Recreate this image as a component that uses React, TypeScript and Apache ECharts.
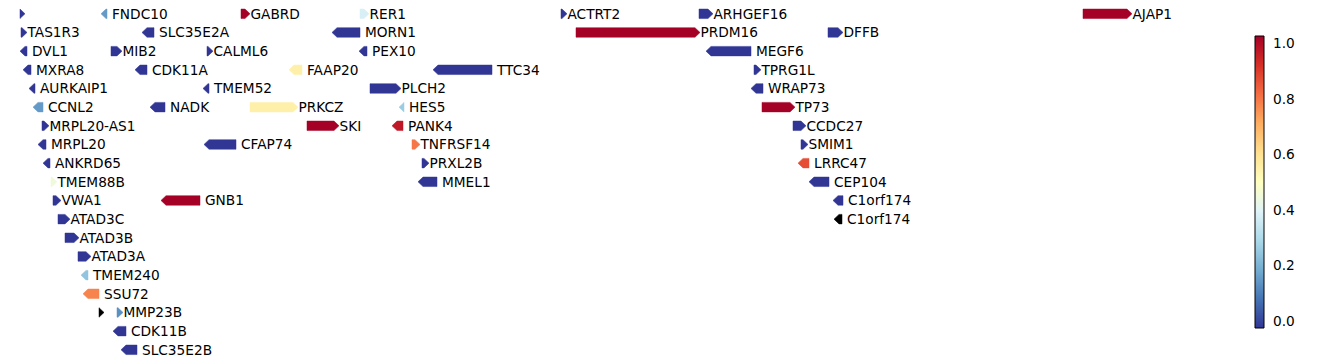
import React, { useEffect, useRef } from "react";
import * as echarts from "echarts";

// Gene track data: name, start, end (position units), strand, row, value (null = no value)
const geneNames = [
  "", "FNDC10", "GABRD", "RER1", "ACTRT2", "ARHGEF16", "AJAP1",
  "TAS1R3", "SLC35E2A", "MORN1", "PRDM16", "DFFB",
  "DVL1", "MIB2", "CALML6", "PEX10", "MEGF6",
  "MXRA8", "CDK11A", "FAAP20", "TTC34", "TPRG1L",
  "AURKAIP1", "TMEM52", "PLCH2", "WRAP73",
  "CCNL2", "NADK", "PRKCZ", "HES5", "TP73",
  "MRPL20-AS1", "SKI", "PANK4", "CCDC27",
  "MRPL20", "CFAP74", "TNFRSF14", "SMIM1",
  "ANKRD65", "PRXL2B", "LRRC47",
  "TMEM88B", "MMEL1", "CEP104",
  "VWA1", "GNB1", "C1orf174",
  "ATAD3C", "C1orf174",
  "ATAD3B",
  "ATAD3A",
  "TMEM240",
  "SSU72",
  "", "MMP23B",
  "CDK11B",
  "SLC35E2B",
];
const geneStart = [
  20, 101, 241, 360, 561, 699, 1083,
  21, 142, 332, 576, 828,
  20, 111, 207, 359, 706,
  23, 135, 289, 433, 754,
  29, 203, 370, 751,
  33, 150, 250, 399, 762,
  42, 307, 392, 793,
  38, 204, 412, 801,
  43, 422, 798,
  51, 418, 809,
  53, 161, 833,
  58, 834,
  65,
  78,
  81,
  83,
  99, 117,
  113,
  121,
];
const geneEnd = [
  25, 107, 250, 369, 567, 713, 1132,
  27, 154, 360, 700, 843,
  27, 122, 213, 367, 751,
  31, 147, 302, 492, 761,
  35, 209, 401, 763,
  43, 165, 298, 404, 795,
  49, 339, 403, 806,
  46, 236, 420, 808,
  50, 429, 809,
  57, 437, 829,
  61, 200, 843,
  70, 842,
  79,
  91,
  88,
  99,
  104, 123,
  126,
  137,
];
const geneStrand = [
  1, -1, 1, 1, 1, 1, 1,
  1, -1, -1, 1, 1,
  -1, 1, 1, -1, -1,
  -1, -1, -1, -1, 1,
  -1, -1, 1, -1,
  -1, -1, 1, -1, 1,
  1, 1, -1, 1,
  -1, -1, 1, 1,
  -1, 1, -1,
  1, -1, -1,
  1, -1, -1,
  1, -1,
  1,
  1,
  -1,
  -1,
  1, 1,
  -1,
  -1,
];
const geneRow = [
  0, 0, 0, 0, 0, 0, 0,
  1, 1, 1, 1, 1,
  2, 2, 2, 2, 2,
  3, 3, 3, 3, 3,
  4, 4, 4, 4,
  5, 5, 5, 5, 5,
  6, 6, 6, 6,
  7, 7, 7, 7,
  8, 8, 8,
  9, 9, 9,
  10, 10, 10,
  11, 11,
  12,
  13,
  14,
  15,
  16, 16,
  17,
  18,
];
const LO = -0.025;
const HI = 1.025;
const geneValue: (number | null)[] = [
  LO, 0.15, HI, 0.38, LO, LO, HI,
  LO, LO, LO, HI, LO,
  LO, LO, LO, LO, LO,
  LO, LO, 0.55, LO, LO,
  LO, LO, LO, LO,
  0.15, LO, 0.55, 0.26, HI,
  LO, HI, 0.97, LO,
  LO, LO, 0.8, LO,
  LO, LO, 0.87,
  0.45, LO, LO,
  LO, HI, LO,
  LO, null,
  LO,
  LO,
  0.24,
  0.78,
  null, 0.13,
  LO,
  LO,
];

const colorbarTicks = [0, 0.2, 0.4, 0.6, 0.8, 1.0];
const VMIN = -0.025;
const VMAX = 1.025;

// RdYlBu_r colormap stops
const CMAP = [
  "#313695", "#4575b4", "#74add1", "#abd9e9", "#e0f3f8", "#ffffbf",
  "#fee090", "#fdae61", "#f46d43", "#d73027", "#a50026",
];

function hexToRgb(h: string) {
  return [parseInt(h.slice(1, 3), 16), parseInt(h.slice(3, 5), 16), parseInt(h.slice(5, 7), 16)];
}
function cmap(v: number | null): string {
  if (v === null || v === undefined) return "#000000";
  let t = (v - VMIN) / (VMAX - VMIN);
  t = Math.max(0, Math.min(1, t));
  const p = t * (CMAP.length - 1);
  const i = Math.min(CMAP.length - 2, Math.floor(p));
  const f = p - i;
  const a = hexToRgb(CMAP[i]);
  const b = hexToRgb(CMAP[i + 1]);
  const c = a.map((x, k) => Math.round(x + (b[k] - x) * f));
  return `rgb(${c[0]},${c[1]},${c[2]})`;
}

const FONT = "'DejaVu Sans', sans-serif";
const FS = 13.7;

export default function App() {
  const ref = useRef<HTMLDivElement>(null);
  useEffect(() => {
    if (!ref.current) return;
    const chart = echarts.init(ref.current, undefined, { renderer: "svg" });
    const data = geneNames.map((n, i) => [geneStart[i], geneEnd[i], geneRow[i], i]);
    const H = 9.5;
    const HEAD = 5;
    chart.setOption({
      animation: false,
      backgroundColor: "#ffffff",
      grid: [
        { left: 0, top: 13.8, width: 1338, height: 336 },
        { left: 1255, top: 36, width: 9, height: 292 },
      ],
      xAxis: [
        { type: "value", gridIndex: 0, min: 0, max: 1338, show: false },
        { type: "value", gridIndex: 1, min: 0, max: 1, show: false },
      ],
      yAxis: [
        { type: "value", gridIndex: 0, min: 0, max: 18, inverse: true, show: false },
        {
          type: "value",
          gridIndex: 1,
          min: VMIN,
          max: VMAX,
          position: "right",
          axisLine: { show: false },
          splitLine: { show: false },
          axisTick: {
            show: true,
            length: 3.5,
            customValues: colorbarTicks,
            lineStyle: { color: "#000", width: 1 },
          },
          axisLabel: {
            show: true,
            customValues: colorbarTicks,
            formatter: (v: number) => v.toFixed(1),
            color: "#000",
            fontSize: FS,
            fontFamily: FONT,
            margin: 9,
          },
        },
      ],
      series: [
        {
          type: "custom",
          xAxisIndex: 0,
          yAxisIndex: 0,
          data,
          renderItem: (params: any, api: any) => {
            const idx = api.value(3);
            const p0 = api.coord([api.value(0), api.value(2)]);
            const p1 = api.coord([api.value(1), api.value(2)]);
            const x0 = p0[0];
            const x1 = p1[0];
            const y = p0[1];
            const len = x1 - x0;
            const hd = Math.min(HEAD, len);
            const strand = geneStrand[idx];
            let pts: number[][];
            if (strand > 0) {
              pts =
                hd >= len
                  ? [[x0, y - H / 2], [x1, y], [x0, y + H / 2]]
                  : [[x0, y - H / 2], [x1 - hd, y - H / 2], [x1, y], [x1 - hd, y + H / 2], [x0, y + H / 2]];
            } else {
              pts =
                hd >= len
                  ? [[x1, y - H / 2], [x0, y], [x1, y + H / 2]]
                  : [[x1, y - H / 2], [x0 + hd, y - H / 2], [x0, y], [x0 + hd, y + H / 2], [x1, y + H / 2]];
            }
            const color = cmap(geneValue[idx]);
            const children: any[] = [
              {
                type: "polygon",
                shape: { points: pts },
                style: { fill: color, stroke: color, lineWidth: 0.5 },
              },
            ];
            if (geneNames[idx]) {
              children.push({
                type: "text",
                x: strand > 0 ? x1 + 0.5 : x1 + 5,
                y: y,
                style: {
                  text: geneNames[idx],
                  fill: "#000",
                  fontSize: FS,
                  fontFamily: FONT,
                  verticalAlign: "middle",
                  align: "left",
                },
              });
            }
            return { type: "group", children };
          },
        },
        {
          type: "custom",
          xAxisIndex: 1,
          yAxisIndex: 1,
          data: [[0]],
          renderItem: (params: any, api: any) => {
            const tl = api.coord([0, VMAX]);
            const br = api.coord([1, VMIN]);
            const stops = CMAP.map((c, i) => ({ offset: i / (CMAP.length - 1), color: c }));
            return {
              type: "rect",
              shape: { x: tl[0], y: tl[1], width: br[0] - tl[0], height: br[1] - tl[1] },
              style: {
                fill: new echarts.graphic.LinearGradient(0, 1, 0, 0, stops),
                stroke: "#000",
                lineWidth: 1,
              },
            };
          },
        },
      ],
    });
    return () => chart.dispose();
  }, []);
  return (
    <div
      ref={ref}
      style={{ position: "fixed", left: 0, top: 0, width: 1338, height: 364, background: "#fff" }}
    />
  );
}
